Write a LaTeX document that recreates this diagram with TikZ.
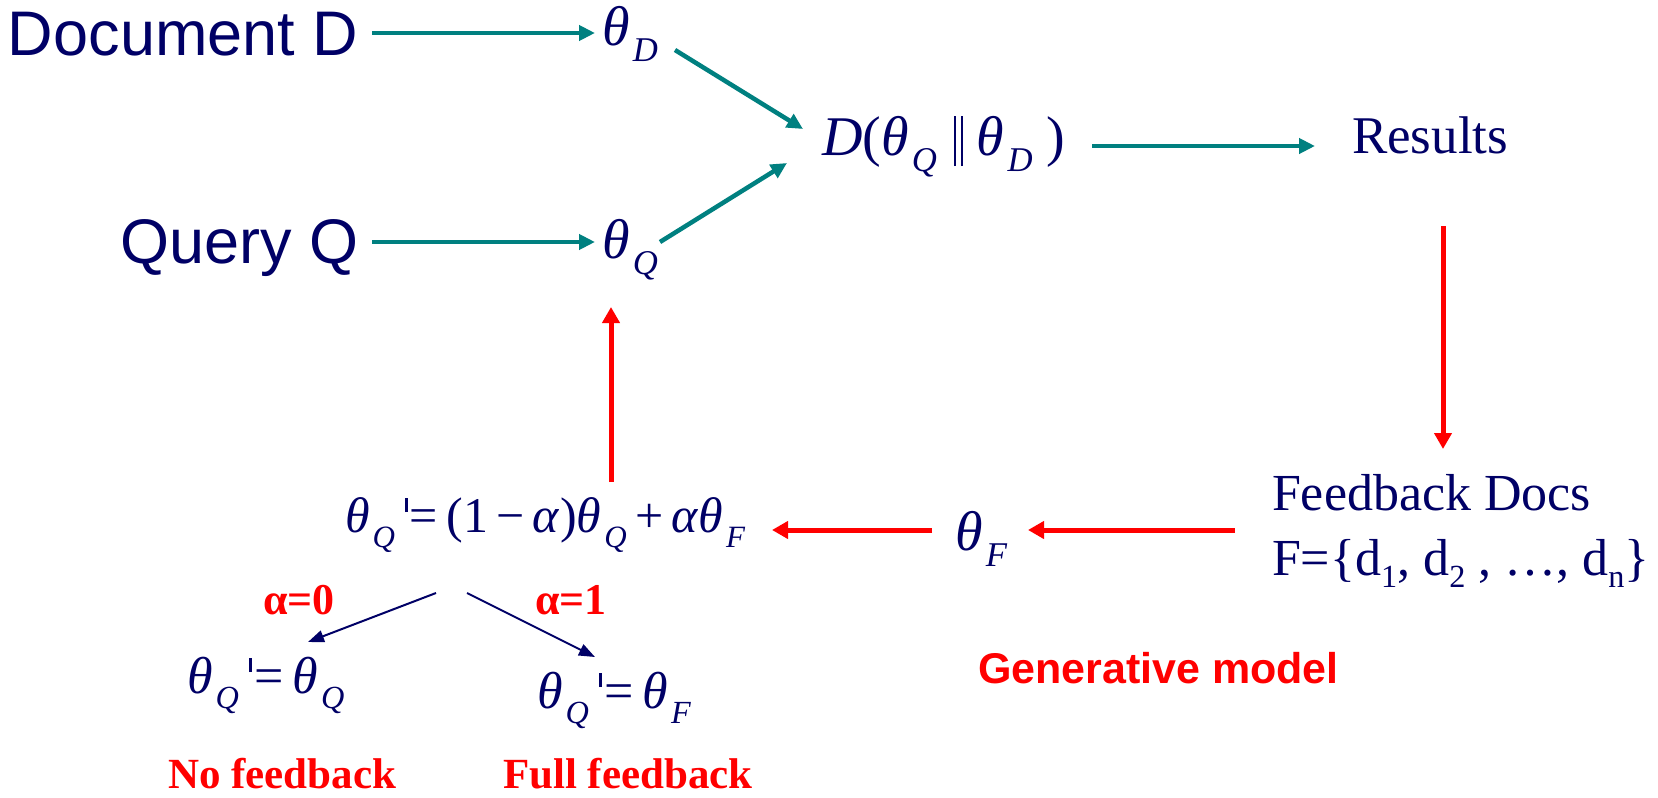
\documentclass[tikz,border=0pt]{standalone}
\usepackage{fontspec}
\setmainfont{Liberation Serif}
\newfontfamily\arialf{Liberation Sans}
\usetikzlibrary{arrows.meta}
\definecolor{navyc}{RGB}{0,0,102}
\definecolor{tealc}{RGB}{0,128,128}
\definecolor{redc}{RGB}{255,0,0}
\newcommand{\thsub}[1]{\textit{θ}\kern0.06em\raisebox{-0.3em}{\scalebox{0.62}{\textit{#1}}}}
\newcommand{\prm}{\kern0.2em\raisebox{0.4em}{\rule{0.06em}{0.28em}}\kern0.04em}
\newcommand{\dsub}[1]{\raisebox{-0.24em}{\scalebox{0.62}{#1}}}
\newcommand{\dbar}{\kern0.3em\rule[-0.2em]{0.035em}{0.9em}\kern0.09em\rule[-0.2em]{0.035em}{0.9em}\kern0.25em}
\newcommand{\fs}[1]{\fontsize{#1}{#1}\selectfont}
\begin{document}
\begin{tikzpicture}[x=1pt,y=-1pt,
  lbl/.style={inner sep=0pt, outer sep=0pt, anchor=base west, text=navyc},
  redlbl/.style={inner sep=0pt, outer sep=0pt, anchor=base west, text=redc},
  tarrow/.style={draw=tealc, line width=4.5pt, -{Triangle[length=16pt,width=15pt]}},
  rarrow/.style={draw=redc, line width=5pt, -{Triangle[length=16pt,width=17pt]}},
  narrow/.style={draw=navyc, line width=2pt, -{Triangle[length=16pt,width=12pt]}}]
\fill[white] (0,0) rectangle (1658,798);
\useasboundingbox (0,0) rectangle (1658,798);

% nodes
\node[lbl] (docD) at (8,55) {\arialf\fs{63}Document D};
\node[lbl] (qryQ) at (120,263) {\arialf\fs{63}Query Q};
\node[lbl] (thD) at (602,45) {\fs{56}\thsub{D}};
\node[lbl] (thQ) at (602,258) {\fs{56}\thsub{Q}};
\node[lbl] (kl) at (822,155) {\fs{56}\textit{D}(\thsub{Q}\dbar\thsub{D}\kern0.25em)};
\node[lbl] (res) at (1352,153) {\fs{53}Results};
\node[lbl] (fbd) at (1272,510) {\fs{52}Feedback Docs};
\node[lbl] (fset) at (1272,575) {\fs{52}F=\{d\dsub{1}, d\dsub{2} , …, d\dsub{n}\}};
\node[lbl] (thF) at (955,550) {\fs{56}\thsub{F}};
\node[lbl] (upd) at (345,532) {\fs{50}\thsub{Q}\prm=\,(1\,−\,\textit{α})\thsub{Q}\,+\,\textit{α}\thsub{F}};
\node[redlbl] (a0) at (263,614) {\fs{44}\bfseries α=0};
\node[redlbl] (a1) at (535,614) {\fs{44}\bfseries α=1};
\node[lbl] (noq) at (187,693) {\fs{52}\thsub{Q}\prm=\,\thsub{Q}};
\node[lbl] (fuq) at (537,708) {\fs{52}\thsub{Q}\prm=\,\thsub{F}};
\node[redlbl] (nofb) at (168,788) {\fs{43}\bfseries No feedback};
\node[redlbl] (fufb) at (503,788) {\fs{43}\bfseries Full feedback};
\node[redlbl] (gen) at (978,683) {\arialf\fs{43}\bfseries Generative model};

% connector end points
\coordinate (dDo) at (372,33);  \coordinate (thDi) at (595,33);
\coordinate (qQo) at (372,242); \coordinate (thQi) at (595,242);
\coordinate (thDo) at (675,50); \coordinate (klDi) at (803,129);
\coordinate (thQo) at (660,242); \coordinate (klQi) at (787,163);
\coordinate (klo) at (1092,146); \coordinate (resi) at (1315,146);
\coordinate (reso) at (1443,226); \coordinate (fbdi) at (1443,449);
\coordinate (fbdo) at (1235,530); \coordinate (thFi) at (1028,530);
\coordinate (thFo) at (932,530); \coordinate (updi) at (772,530);
\coordinate (updo) at (611,482); \coordinate (thQb) at (611,307);
\coordinate (brL) at (436,593); \coordinate (noqi) at (308,642);
\coordinate (brR) at (467,593); \coordinate (fuqi) at (595,657);

% connectors
\draw[tarrow] (dDo) -- (thDi);
\draw[tarrow] (qQo) -- (thQi);
\draw[tarrow] (thDo) -- (klDi);
\draw[tarrow] (thQo) -- (klQi);
\draw[tarrow] (klo) -- (resi);
\draw[rarrow] (reso) -- (fbdi);
\draw[rarrow] (fbdo) -- (thFi);
\draw[rarrow] (thFo) -- (updi);
\draw[rarrow] (updo) -- (thQb);
\draw[narrow] (brL) -- (noqi);
\draw[narrow] (brR) -- (fuqi);
\end{tikzpicture}
\end{document}
